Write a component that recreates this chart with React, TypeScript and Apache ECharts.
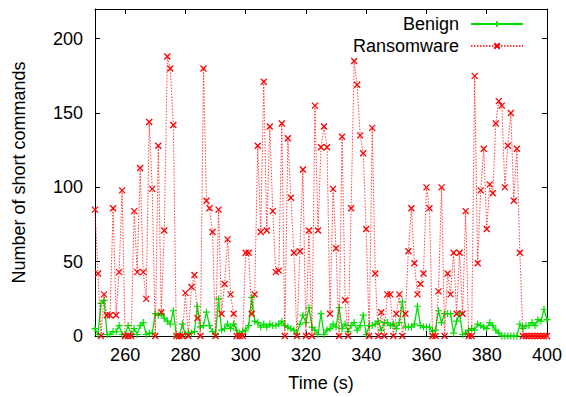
import React, { useEffect, useRef } from "react";
import * as echarts from "echarts";

const times = [
  250, 251, 252, 253, 254, 255, 256, 257, 258, 259,
  260, 261, 262, 263, 264, 265, 266, 267, 268, 269,
  270, 271, 272, 273, 274, 275, 276, 277, 278, 279,
  280, 281, 282, 283, 284, 285, 286, 287, 288, 289,
  290, 291, 292, 293, 294, 295, 296, 297, 298, 299,
  300, 301, 302, 303, 304, 305, 306, 307, 308, 309,
  310, 311, 312, 313, 314, 315, 316, 317, 318, 319,
  320, 321, 322, 323, 324, 325, 326, 327, 328, 329,
  330, 331, 332, 333, 334, 335, 336, 337, 338, 339,
  340, 341, 342, 343, 344, 345, 346, 347, 348, 349,
  350, 351, 352, 353, 354, 355, 356, 357, 358, 359,
  360, 361, 362, 363, 364, 365, 366, 367, 368, 369,
  370, 371, 372, 373, 374, 375, 376, 377, 378, 379,
  380, 381, 382, 383, 384, 385, 386, 387, 388, 389,
  390, 391, 392, 393, 394, 395, 396, 397, 398, 399,
  400,
];

const benign = [
  5, 1, 22, 24, 1, 1, 3, 3, 7, 1,
  1, 7, 1, 5, 1, 7, 9, 1, 2, 2,
  15, 14, 15, 12, 10, 8, 17, 0, 0, 8,
  1, 2, 2, 3, 20, 6, 7, 16, 7, 3,
  1, 25, 4, 5, 8, 5, 8, 4, 1, 3,
  4, 7, 26, 10, 9, 6, 8, 6, 8, 7,
  7, 8, 10, 7, 6, 5, 4, 1, 8, 14,
  9, 19, 6, 4, 1, 15, 1, 4, 5, 8,
  6, 19, 5, 8, 3, 7, 9, 4, 7, 14,
  1, 7, 7, 8, 10, 4, 9, 9, 7, 8,
  5, 9, 23, 6, 6, 6, 8, 20, 7, 6,
  6, 6, 3, 4, 17, 9, 15, 15, 15, 2,
  10, 15, 1, 2, 4, 5, 4, 8, 7, 6,
  5, 9, 7, 4, 2, 0, 0, 0, 0, 0,
  0, 8, 5, 7, 7, 9, 7, 11, 10, 18,
  11,
];

const ransomware = [
  85, 42, 0, 28, 14, 14, 86, 14, 43, 98,
  0, 0, 0, 84, 43, 113, 43, 25, 144, 99,
  0, 128, 16, 71, 188, 180, 142, 0, 0, 0,
  29, 0, 33, 41, 12, 0, 180, 91, 86, 70,
  0, 85, 15, 35, 65, 28, 15, 0, 0, 0,
  56, 56, 15, 28, 128, 70, 171, 71, 141, 84,
  43, 44, 143, 0, 133, 93, 56, 0, 57, 112,
  0, 71, 0, 155, 71, 127, 141, 127, 15, 99,
  59, 0, 134, 24, 0, 86, 185, 169, 135, 123,
  72, 0, 140, 42, 0, 16, 0, 28, 28, 0,
  15, 28, 0, 15, 57, 86, 49, 28, 35, 42,
  100, 86, 0, 0, 30, 100, 0, 42, 28, 56,
  15, 56, 15, 84, 0, 0, 175, 49, 98, 126,
  72, 102, 96, 143, 158, 155, 100, 128, 150, 91,
  126, 56, 0, 0, 0, 0, 0, 0, 0, 0,
  0,
];

const xTicks = [260, 280, 300, 320, 340, 360, 380, 400];
const yTicks = [0, 50, 100, 150, 200];

const FONT = "Liberation Sans";
const GREEN = "#00e000";
const RED = "#ff0000";
const CROSS = "path://M0,0L10,10M10,0L0,10";
const PLUS = "path://M5,0L5,10M0,5L10,5";

export default function App() {
  const ref = useRef<HTMLDivElement>(null);
  useEffect(() => {
    if (!ref.current) return;
    const chart = echarts.init(ref.current, null, { renderer: "svg" });
    const axisCommon = {
      type: "value" as const,
      splitLine: { show: false },
      axisLine: { show: true, onZero: false, lineStyle: { color: "#000", width: 1 } },
    };
    const legendCommon = {
      right: 42,
      padding: 0,
      align: "right" as const,
      itemWidth: 52,
      itemHeight: 7,
      textStyle: { fontSize: 18, fontFamily: FONT, color: "#000", padding: [0, 7, 0, 0] },
    };
    chart.setOption({
      animation: false,
      backgroundColor: "#fff",
      grid: { left: 95, right: 19, top: 9, bottom: 61 },
      legend: [
        { ...legendCommon, data: ["Benign"], top: 15 },
        { ...legendCommon, data: ["Ransomware"], top: 37 },
      ],
      xAxis: [
        {
          ...axisCommon,
          min: 250,
          max: 400,
          position: "bottom",
          name: "Time (s)",
          nameLocation: "middle",
          nameGap: 38,
          nameTextStyle: { fontSize: 18, fontFamily: FONT, color: "#000" },
          axisTick: { show: true, inside: true, length: 5, customValues: xTicks, lineStyle: { color: "#000" } },
          axisLabel: { show: true, margin: 10, customValues: xTicks, fontSize: 18, fontFamily: FONT, color: "#000" },
        },
        {
          ...axisCommon,
          min: 250,
          max: 400,
          position: "top",
          axisTick: { show: true, inside: true, length: 5, customValues: xTicks, lineStyle: { color: "#000" } },
          axisLabel: { show: false },
        },
      ],
      yAxis: [
        {
          ...axisCommon,
          min: 0,
          max: 220,
          position: "left",
          name: "Number of short commands",
          nameLocation: "middle",
          nameGap: 67,
          nameTextStyle: { fontSize: 18, fontFamily: FONT, color: "#000" },
          axisTick: { show: true, inside: true, length: 5, customValues: yTicks, lineStyle: { color: "#000" } },
          axisLabel: { show: true, margin: 12, customValues: yTicks, fontSize: 18, fontFamily: FONT, color: "#000" },
        },
        {
          ...axisCommon,
          min: 0,
          max: 220,
          position: "right",
          axisTick: { show: true, inside: true, length: 5, customValues: yTicks, lineStyle: { color: "#000" } },
          axisLabel: { show: false },
        },
      ],
      series: [
        {
          name: "Benign",
          type: "line",
          data: times.map((t, i) => [t, benign[i]]),
          symbol: PLUS,
          symbolSize: 7,
          showSymbol: true,
          lineStyle: { color: GREEN, width: 1.3 },
          itemStyle: { color: GREEN, borderColor: GREEN, borderWidth: 1.2 },
          z: 2,
        },
        {
          name: "Ransomware",
          type: "line",
          data: times.map((t, i) => [t, ransomware[i]]),
          symbol: CROSS,
          symbolSize: 6,
          showSymbol: true,
          lineStyle: { color: RED, width: 1, type: [1.5, 1.5], opacity: 0.75 },
          itemStyle: { color: RED, borderColor: RED, borderWidth: 1.3 },
          z: 3,
        },
      ],
    });
    return () => chart.dispose();
  }, []);
  return (
    <div
      ref={ref}
      style={{ position: "fixed", left: 0, top: 0, width: 566, height: 397 }}
    />
  );
}
